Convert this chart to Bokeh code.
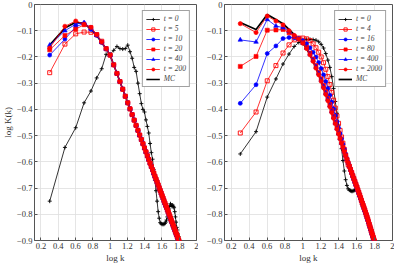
import numpy as np
from bokeh.plotting import figure
from bokeh.layouts import row
from bokeh.models import FixedTicker, Legend, LegendItem, Range1d
from bokeh.embed import file_html
from bokeh.resources import INLINE

# wave-number index k (x axis is log10 k)
K = list(range(2, 65))

X_TICKS = [0.2, 0.4, 0.6, 0.8, 1, 1.2, 1.4, 1.6, 1.8, 2]
X_LABELS = ["0.2", "0.4", "0.6", "0.8", "1", "1.2", "1.4", "1.6", "1.8", "2"]
Y_TICKS = [0, -0.1, -0.2, -0.3, -0.4, -0.5, -0.6, -0.7, -0.8, -0.9]
Y_LABELS = ["0", "\u22120.1", "\u22120.2", "\u22120.3", "\u22120.4", "\u22120.5",
            "\u22120.6", "\u22120.7", "\u22120.8", "\u22120.9"]

# ---------------- left panel ----------------
LEFT_TAIL = [-0.193, -0.230, -0.263, -0.294, -0.323, -0.350, -0.375, -0.398, -0.420, -0.441,
             -0.461, -0.480, -0.498, -0.515, -0.531, -0.547, -0.562, -0.577, -0.591, -0.605,
             -0.618, -0.630, -0.643, -0.655, -0.666, -0.677, -0.688, -0.699, -0.709, -0.719,
             -0.729, -0.738, -0.748, -0.757, -0.766, -0.774, -0.783, -0.791, -0.799, -0.807,
             -0.815, -0.823, -0.830, -0.838, -0.845, -0.852, -0.859, -0.866, -0.873, -0.879,
             -0.886, -0.892, -0.898, -0.905, -0.911]  # k = 10..64

L_T0 = [-0.75, -0.545, -0.47, -0.375, -0.33, -0.28, -0.245, -0.19, -0.19, -0.175,
        -0.16, -0.168, -0.17, -0.168, -0.155, -0.18, -0.205, -0.24, -0.255, -0.30,
        -0.34, -0.378, -0.40, -0.41, -0.44, -0.465, -0.49, -0.53, -0.565, -0.59,
        -0.63, -0.67, -0.71, -0.75, -0.79, -0.815, -0.832, -0.836, -0.838, -0.838,
        -0.838, -0.835, -0.83, -0.822, -0.81, -0.795, -0.78, -0.77, -0.76, -0.765,
        -0.77, -0.765, -0.77, -0.775, -0.79, -0.81, -0.83, -0.85, -0.86, -0.875,
        -0.885, -0.895]  # k = 2..63
L_T5 = [-0.260, -0.151, -0.112, -0.105, -0.106, -0.115, -0.140, -0.168] + LEFT_TAIL
L_T10 = [-0.193, -0.132, -0.085, -0.072, -0.095, -0.118, -0.145, -0.170] + LEFT_TAIL
L_T20 = [-0.173, -0.118, -0.094, -0.077, -0.088, -0.115, -0.143, -0.169] + LEFT_TAIL
L_T40 = [-0.155, -0.100, -0.075, -0.069, -0.090, -0.117, -0.144, -0.170] + LEFT_TAIL
L_T200 = [-0.166, -0.083, -0.063, -0.075, -0.087, -0.115, -0.143, -0.169] + LEFT_TAIL
L_MC = [-0.155, -0.090, -0.068, -0.072, -0.095, -0.118, -0.145, -0.170] + LEFT_TAIL

# ---------------- right panel ----------------
RIGHT_TAIL = [-0.132, -0.148, -0.168, -0.192, -0.217, -0.243, -0.268, -0.293, -0.318, -0.343,
              -0.367, -0.390, -0.412, -0.434, -0.455, -0.475, -0.494, -0.512, -0.529, -0.545,
              -0.561, -0.576, -0.590, -0.604, -0.617, -0.629, -0.641, -0.653, -0.664, -0.675,
              -0.686, -0.696, -0.707, -0.717, -0.727, -0.737, -0.747, -0.757, -0.766, -0.775,
              -0.784, -0.793, -0.802, -0.811, -0.820, -0.829, -0.838, -0.847, -0.856, -0.864,
              -0.873, -0.881, -0.889, -0.897, -0.905, -0.913]  # k = 9..64

R_T0 = [-0.570, -0.485, -0.353, -0.284, -0.227, -0.189, -0.160,
        -0.145, -0.136, -0.133, -0.133, -0.134, -0.136, -0.142, -0.152, -0.166, -0.187,
        -0.212, -0.24, -0.275, -0.32, -0.37, -0.415, -0.46, -0.505, -0.55, -0.595,
        -0.635, -0.668, -0.69, -0.703, -0.708, -0.71, -0.712, -0.712, -0.71, -0.708,
        -0.706, -0.706, -0.711, -0.72, -0.729, -0.738] + RIGHT_TAIL[36:]
R_T4 = [-0.490, -0.410, -0.291, -0.233, -0.185, -0.154, -0.135,
        -0.128, -0.128, -0.131, -0.138, -0.150, -0.165, -0.182, -0.200, -0.222, -0.247,
        -0.275, -0.305, -0.335, -0.365, -0.395, -0.425, -0.453, -0.480, -0.505, -0.529,
        -0.552, -0.574, -0.594, -0.611] + RIGHT_TAIL[24:]
R_T16 = [-0.377, -0.306, -0.187, -0.158, -0.130, -0.126, -0.127,
         -0.130, -0.138, -0.150, -0.165, -0.182, -0.200, -0.221, -0.244, -0.268, -0.294,
         -0.320, -0.346, -0.372, -0.398, -0.423, -0.447, -0.470, -0.492, -0.513, -0.533,
         -0.552, -0.570, -0.587, -0.602] + RIGHT_TAIL[24:]
R_T80 = [-0.236, -0.198, -0.098, -0.097, -0.095, -0.108, -0.122,
         -0.132, -0.145, -0.163, -0.185, -0.208, -0.233, -0.258, -0.283, -0.308, -0.333,
         -0.357, -0.381, -0.404, -0.427, -0.449, -0.470, -0.490, -0.509, -0.527, -0.544] + RIGHT_TAIL[20:]
R_T400 = [-0.135, -0.143, -0.057, -0.082, -0.088, -0.102, -0.120,
          -0.132, -0.147, -0.166, -0.189, -0.213, -0.238, -0.263, -0.288, -0.313, -0.338,
          -0.362, -0.386, -0.408, -0.431, -0.452, -0.473, -0.492, -0.511, -0.528, -0.545] + RIGHT_TAIL[20:]
R_T2000 = [-0.073, -0.107, -0.044, -0.063, -0.078, -0.100, -0.118] + RIGHT_TAIL
R_MC = [-0.069, -0.095, -0.038, -0.057, -0.073, -0.095, -0.115] + RIGHT_TAIL

LEFT_LABELS = ["t = 0", "t = 5", "t = 10", "t = 20", "t = 40", "t = 200", "MC"]
RIGHT_LABELS = ["t = 0", "t = 4", "t = 16", "t = 80", "t = 400", "t = 2000", "MC"]

RED = "#ff0000"
BLUE = "#0000ff"
BLACK = "#000000"
FONT = "Liberation Serif"

# style per series position: (color, marker, filled, line width, marker size)
STYLES = [
    (BLACK, "cross", True, 0.8, 4),
    (RED, "square", False, 0.8, 4),
    (BLUE, "circle", True, 0.8, 4),
    (RED, "square", True, 0.8, 4),
    (BLUE, "triangle", True, 0.8, 4.5),
    (RED, "circle", True, 0.8, 4.2),
]


def make_panel(series, mc, labels, width, border_left, ylabel):
    p = figure(width=width, height=265, output_backend="svg", toolbar_location=None,
               x_range=Range1d(0.125, 2.0), y_range=Range1d(-0.9, 0.0),
               min_border_left=border_left, min_border_right=2, min_border_top=4,
               min_border_bottom=0)
    p.background_fill_color = "white"
    p.border_fill_color = "white"
    p.outline_line_color = "#555555"
    p.outline_line_width = 1

    for ax in (p.xaxis[0], p.yaxis[0]):
        ax.axis_line_color = None
        ax.major_tick_in = 3
        ax.major_tick_out = 0
        ax.major_tick_line_color = "#555555"
        ax.minor_tick_line_color = None
        ax.major_label_text_font = FONT
        ax.major_label_text_font_size = "8.5px"
        ax.major_label_text_color = "#333333"
        ax.major_label_standoff = 2
        ax.axis_label_text_font = FONT
        ax.axis_label_text_font_size = "9px"
        ax.axis_label_text_font_style = "normal"
        ax.axis_label_text_color = "#333333"
        ax.axis_label_standoff = 1

    p.xaxis.ticker = FixedTicker(ticks=X_TICKS)
    p.xaxis.major_label_overrides = dict(zip(X_TICKS, X_LABELS))
    p.yaxis.ticker = FixedTicker(ticks=Y_TICKS)
    p.yaxis.major_label_overrides = dict(zip(Y_TICKS, Y_LABELS))
    p.xaxis.axis_label = "log k"
    if ylabel:
        p.yaxis.axis_label = "log K(k)"

    p.xgrid.grid_line_color = "#dedede"
    p.ygrid.grid_line_color = "#dedede"
    p.xgrid.grid_line_width = 0.8
    p.ygrid.grid_line_width = 0.8

    # MC reference curve drawn first (underneath the markers)
    xm = np.log10(K[:len(mc)])
    mc_r = p.line(xm, mc, line_color=BLACK, line_width=1.7)

    items = []
    for (ys, lab, st) in zip(series, labels[:-1], STYLES):
        color, marker, filled, lw, size = st
        xs = np.log10(K[:len(ys)])
        lr = p.line(xs, ys, line_color=color, line_width=lw)
        if marker == "cross":
            sr = p.scatter(xs, ys, marker="cross", size=size, line_color=color, line_width=0.9)
        elif filled:
            sr = p.scatter(xs, ys, marker=marker, size=size, line_color=color,
                           fill_color=color, line_width=0.6)
        else:
            sr = p.scatter(xs, ys, marker=marker, size=size, line_color=color,
                           fill_alpha=0, line_width=0.9)
        items.append(LegendItem(label=lab, renderers=[lr, sr]))
    items.append(LegendItem(label=labels[-1], renderers=[mc_r]))

    leg = Legend(items=items, location="top_right")
    leg.margin = 6
    leg.padding = 3
    leg.spacing = 1
    leg.label_height = 8
    leg.glyph_height = 8
    leg.glyph_width = 14
    leg.label_standoff = 4
    leg.label_text_font = FONT
    leg.label_text_font_size = "7.5px"
    leg.label_text_font_style = "italic"
    leg.border_line_color = "#444444"
    leg.border_line_width = 0.8
    leg.background_fill_alpha = 1
    p.add_layout(leg)
    return p


left = make_panel([L_T0, L_T5, L_T10, L_T20, L_T40, L_T200], L_MC, LEFT_LABELS,
                  198, 27, True)
right = make_panel([R_T0, R_T4, R_T16, R_T80, R_T400, R_T2000], R_MC, RIGHT_LABELS,
                   196, 26, False)

layout = row(left, right)
open("out.html", "w").write(file_html(layout, INLINE))
